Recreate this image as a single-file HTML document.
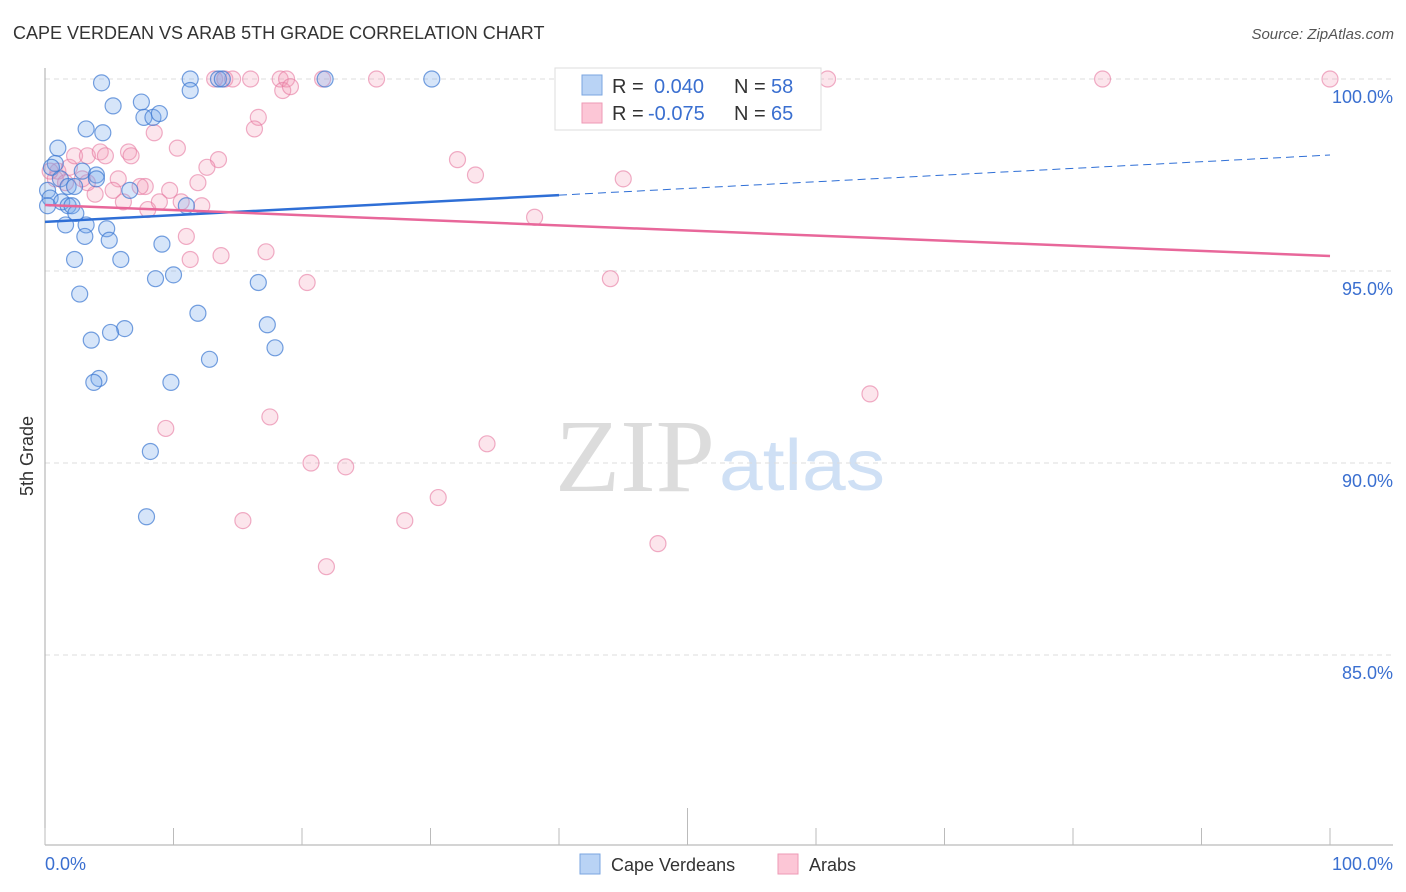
<!DOCTYPE html>
<html><head><meta charset="utf-8"><style>
body{margin:0;background:#fff;font-family:"Liberation Sans",sans-serif;}
#wrap{position:relative;width:1406px;height:892px;overflow:hidden;}
</style></head><body>
<div id="wrap">
<svg id="svg" width="1406" height="892" xmlns="http://www.w3.org/2000/svg">
<text x="13" y="39" font-size="18" fill="#333">CAPE VERDEAN VS ARAB 5TH GRADE CORRELATION CHART</text>
<text x="1394" y="39" font-size="15" fill="#555" font-style="italic" text-anchor="end">Source: ZipAtlas.com</text>
<text x="33" y="456" font-size="18" fill="#333" text-anchor="middle" transform="rotate(-90 33 456)">5th Grade</text>
<g>
<text x="635" y="491" font-size="104" font-family="Liberation Serif,serif" fill="#dcdcdc" text-anchor="middle" textLength="160" lengthAdjust="spacingAndGlyphs">ZIP</text>
<text x="802" y="490" font-size="72" fill="#cfe0f5" text-anchor="middle" textLength="166" lengthAdjust="spacingAndGlyphs">atlas</text>
</g>
<g id="grid"></g><g id="axes"></g><g id="marks"></g><g id="trend"></g>
<g>
<rect x="555" y="68" width="266" height="62" fill="#fff" stroke="#ddd"/>
<rect x="582" y="75" width="20" height="20" fill="#b9d3f5" stroke="#7aa6e0"/>
<rect x="582" y="103" width="20" height="20" fill="#fcc6d6" stroke="#ee9ab5"/>
<text x="612" y="93" font-size="20" fill="#333">R = </text><text x="654" y="93" font-size="20" fill="#3a6fd0">0.040</text>
<text x="734" y="93" font-size="20" fill="#333">N = </text><text x="771" y="93" font-size="20" fill="#3a6fd0">58</text>
<text x="612" y="120" font-size="20" fill="#333">R = </text><text x="648" y="120" font-size="20" fill="#3a6fd0">-0.075</text>
<text x="734" y="120" font-size="20" fill="#333">N = </text><text x="771" y="120" font-size="20" fill="#3a6fd0">65</text>
</g>
<g>
<rect x="580" y="854" width="20" height="20" fill="#b9d3f5" stroke="#7aa6e0"/>
<text x="611" y="871" font-size="18" fill="#333">Cape Verdeans</text>
<rect x="778" y="854" width="20" height="20" fill="#fcc6d6" stroke="#ee9ab5"/>
<text x="809" y="871" font-size="18" fill="#333">Arabs</text>
</g>
</svg>
</div>
<script>
const blueX=[4.4,11.3,11.3,13.5,13.8,21.8,30.1,5.3,7.5,7.7,8.4,8.9,3.2,4.5,1.0,0.8,0.5,0.2,0.4,0.2,1.2,1.8,2.3,2.9,4.0,4.0,1.3,1.8,2.1,2.4,1.6,3.2,4.8,3.1,5.0,9.1,6.6,11.0,2.3,5.9,8.6,10.0,16.6,2.7,11.9,6.2,17.3,5.1,3.6,17.9,12.8,4.2,3.8,9.8,8.2,7.9];
const blueY=[99.9,100,99.7,100,100,100,100,99.3,99.4,99.0,99.0,99.1,98.7,98.6,98.2,97.8,97.7,97.1,96.9,96.7,97.4,97.2,97.2,97.6,97.5,97.4,96.8,96.7,96.7,96.5,96.2,96.2,96.1,95.9,95.8,95.7,97.1,96.7,95.3,95.3,94.8,94.9,94.7,94.4,93.9,93.5,93.6,93.4,93.2,93.0,92.7,92.2,92.1,92.1,90.3,88.6];
const pinkX=[13.2,14.0,14.6,16.0,18.3,18.8,21.6,25.8,46.9,60.9,82.3,100,18.5,19.1,16.6,16.3,8.5,10.3,1.0,1.9,2.3,3.3,4.3,4.7,6.5,6.7,13.5,12.6,5.7,5.3,7.8,7.4,9.7,11.9,6.1,8.0,8.9,10.6,12.2,3.9,32.1,33.5,45.0,38.1,11.0,11.3,13.7,17.2,20.4,44.0,64.2,9.4,17.5,34.4,20.7,23.4,30.6,15.4,28.0,21.9,47.7,0.4,0.8,1.6,3.3,2.9];
const pinkY=[100,100,100,100,100,100,100,100,100,100,100,100,99.7,99.8,99.0,98.7,98.6,98.2,97.6,97.7,98.0,98.0,98.1,98.0,98.1,98.0,97.9,97.7,97.4,97.1,97.2,97.2,97.1,97.3,96.8,96.6,96.8,96.8,96.7,97.0,97.9,97.5,97.4,96.4,95.9,95.3,95.4,95.5,94.7,94.8,91.8,90.9,91.2,90.5,90.0,89.9,89.1,88.5,88.5,87.3,87.9,97.6,97.4,97.3,97.3,97.4];
const blueTrend=[96.28,98.02];
const pinkTrend=[96.72,95.39];
const yTicks=[100,95,90,85];
const yTickLabels=["100.0%","95.0%","90.0%","85.0%"];
const xTicks=[0,10,20,30,40,50,60,70,80,90,100];

const NS="http://www.w3.org/2000/svg";
const X0=45,X1=1330,Y100=79,PXPER=38.4;
const sx=v=>X0+(X1-X0)*v/100;
const sy=v=>Y100+(100-v)*PXPER;
function mk(tag,attrs,parent){const e=document.createElementNS(NS,tag);for(const k in attrs)e.setAttribute(k,attrs[k]);parent.appendChild(e);return e;}
const grid=document.getElementById('grid'),axes=document.getElementById('axes'),marks=document.getElementById('marks'),trend=document.getElementById('trend');
yTicks.forEach((t,i)=>{
  const l=mk('line',{x1:X0,x2:1393,y1:sy(t),y2:sy(t),stroke:'#ddd','stroke-dasharray':'5,4'},grid);
  
  
  const tx=mk('text',{x:1393,y:sy(t)+24,'font-size':18,fill:'#3a6fd0','text-anchor':'end'},axes);
  tx.textContent=yTickLabels[i];
  
  
});
mk('line',{x1:X0,x2:X0,y1:68,y2:845,stroke:'#aaa'},axes);
mk('line',{x1:X0,x2:1393,y1:845,y2:845,stroke:'#aaa'},axes);
xTicks.forEach(t=>{
  const l=mk('line',{x1:sx(t),x2:sx(t),y1:t===50?808:828,y2:845,stroke:'#bbb'},axes);
  
  
});
const xl0=mk('text',{x:45,y:870,'font-size':18,fill:'#3a6fd0'},axes);xl0.textContent='0.0%';


const xl1=mk('text',{x:1393,y:870,'font-size':18,fill:'#3a6fd0','text-anchor':'end'},axes);xl1.textContent='100.0%';


function pts(xs,ys,fill,stroke,name){xs.forEach((x,i)=>{
  const c=mk('circle',{cx:sx(x),cy:sy(ys[i]),r:8,fill:fill,stroke:stroke,'stroke-width':1.2},marks);
  
  
});}
pts(pinkX,pinkY,'rgba(244,150,180,0.25)','rgba(230,120,160,0.6)','arab-point');
pts(blueX,blueY,'rgba(120,170,235,0.3)','rgba(60,120,210,0.7)','cape-verdean-point');
const bMid=blueTrend[0]+(blueTrend[1]-blueTrend[0])*0.4;
const b1=mk('line',{x1:sx(0),y1:sy(blueTrend[0]),x2:sx(40),y2:sy(bMid),stroke:'#2f6fd6','stroke-width':2.5},trend);


const b2=mk('line',{x1:sx(40),y1:sy(bMid),x2:sx(100),y2:sy(blueTrend[1]),stroke:'#2f6fd6','stroke-width':1,'stroke-dasharray':'8,5'},trend);


const p1=mk('line',{x1:sx(0),y1:sy(pinkTrend[0]),x2:sx(100),y2:sy(pinkTrend[1]),stroke:'#e8679a','stroke-width':2.5},trend);


</script>
</body></html>
